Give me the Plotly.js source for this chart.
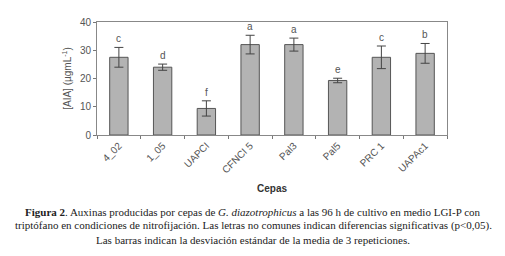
<!DOCTYPE html>
<html><head><meta charset="utf-8">
<script src="https://cdn.plot.ly/plotly-3.0.1.min.js"></script>
<style>html,body{margin:0;padding:0;background:#fff}#c{width:505px;height:256px}</style>
</head><body><div id="c"></div>
<script>
const cepas = ["4_02", "1_05", "UAPCI", "CFNCI 5", "Pal3", "Pal5", "PRC 1", "UAPAc1"];
const aia = [27.5, 24.0, 9.4, 32.0, 32.0, 19.3, 27.5, 28.9];
const sd = [3.5, 1.1, 2.7, 3.3, 2.3, 0.8, 4.0, 3.5];
const letras = ["c", "d", "f", "a", "a", "e", "c", "b"];
const yTicks = [0, 10, 20, 30, 40];

const captionLines = [
  "<b>Figura 2</b>. Auxinas producidas por cepas de <i>G. diazotrophicus</i> a las 96 h de cultivo en medio LGI-P con",
  "triptófano en condiciones de nitrofijación. Las letras no comunes indican diferencias significativas (p&lt;0,05).",
  "Las barras indican la desviación estándar de la media de 3 repeticiones."
];

const axFont = {family: "Liberation Sans Narrow, Arial Narrow, Liberation Sans, Arial", size: 10, color: "#555"};

const trace = {
  type: "bar", x: cepas, y: aia, width: 0.42,
  marker: {color: "#b3b3b3", line: {color: "#555", width: 1}},
  error_y: {type: "data", array: sd, visible: true, color: "#444", thickness: 1, width: 4.5}
};

const annotations = letras.map((l, i) => ({
  x: cepas[i], y: aia[i] + sd[i], xref: "x", yref: "y", text: l, showarrow: false,
  yanchor: "bottom", yshift: 1, font: axFont
}));
annotations.push({x: 0.5, y: -0.47, xref: "paper", yref: "paper", text: "<b>Cepas</b>", showarrow: false,
  xanchor: "center", yanchor: "middle", font: {family: "Liberation Sans, Arial", size: 10, color: "#333"}});
const capY = [-0.685, -0.80, -0.93];
captionLines.forEach((t, i) => annotations.push({
  x: 0.447, y: capY[i], xref: "paper", yref: "paper", text: t, showarrow: false,
  xanchor: "center", yanchor: "middle",
  font: {family: "Liberation Serif, Times New Roman, serif", size: 11, color: "#222"}
}));

const layout = {
  width: 505, height: 256, margin: {l: 97, r: 58, t: 22, b: 121},
  paper_bgcolor: "#fff", plot_bgcolor: "#fff", showlegend: false,
  xaxis: {type: "category", tickangle: -45, tickson: "boundaries", ticks: "outside", ticklen: 3,
    tickcolor: "#777", showline: true, linecolor: "#888", linewidth: 1, mirror: true,
    showgrid: false, tickfont: axFont, automargin: false},
  yaxis: {range: [0, 40], tickvals: yTicks, ticks: "outside", ticklen: 3, tickcolor: "#777",
    showline: true, linecolor: "#888", linewidth: 1, mirror: true, showgrid: false, zeroline: false,
    tickfont: axFont, automargin: false,
    title: {text: "[AIA] (µgmL<sup>-1</sup>)", font: axFont, standoff: 6}},
  annotations: annotations
};

Plotly.newPlot("c", [trace], layout, {staticPlot: true, displayModeBar: false});
</script></body></html>
